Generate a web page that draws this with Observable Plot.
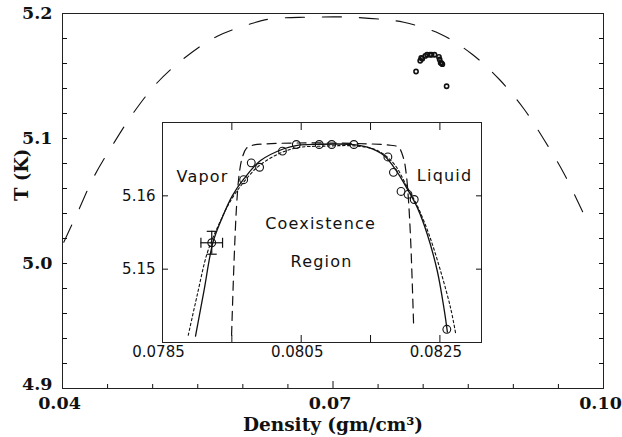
<!DOCTYPE html>
<html><head><meta charset="utf-8">
<script src="https://cdn.jsdelivr.net/npm/d3@7"></script>
<script src="https://cdn.jsdelivr.net/npm/@observablehq/plot@0.6"></script>
<style>
html,body{margin:0;padding:0;background:#fff;}
#wrap{position:relative;width:622px;height:437px;overflow:hidden;}
#wrap svg{position:absolute;overflow:visible;}
</style></head><body><div id="wrap"></div>
<script>
// ---- main panel: dashed envelope (density, temperature) ----
const mainRho = [0.04014, 0.04177, 0.04344, 0.04566, 0.04791, 0.0505, 0.05356, 0.05716, 0.06107, 0.06315, 0.0672, 0.0714, 0.07555, 0.07785, 0.08184, 0.08536, 0.08846, 0.09116, 0.09346, 0.0956, 0.09745, 0.09831];
const mainT   = [5.017, 5.0424, 5.0688, 5.096, 5.121, 5.1446, 5.1646, 5.1818, 5.1922, 5.1958, 5.1970, 5.1972, 5.1952, 5.1930, 5.1838, 5.1678, 5.1472, 5.1238, 5.0984, 5.0722, 5.045, 5.0318];

// ---- measured coexistence points ----
const ptRho = [0.07921, 0.07967, 0.07978, 0.0799, 0.08023, 0.08043, 0.08076, 0.08094, 0.08126, 0.08175, 0.08183, 0.08194, 0.08204, 0.08213, 0.0826];
const ptT   = [5.1536, 5.1622, 5.1645, 5.1639, 5.1661, 5.1670, 5.1670, 5.1670, 5.1670, 5.1653, 5.1632, 5.1606, 5.1602, 5.1595, 5.1418];

// ---- error bar on one point ----
const errRho = [0.07921];
const errT = [5.1536];
const errDRho = [0.000156];
const errDT = [0.00156];

// ---- inset: solid fit ----
const fitRho = [0.078976, 0.079096, 0.079226, 0.079361, 0.079506, 0.079673, 0.079914, 0.08025, 0.080444, 0.080732, 0.081213, 0.081454, 0.081694, 0.081887, 0.082031, 0.082175, 0.082319, 0.082464, 0.082559, 0.082608];
const fitT   = [5.14088, 5.14693, 5.15358, 5.15702, 5.16, 5.1623, 5.16481, 5.16642, 5.16688, 5.16702, 5.16702, 5.16664, 5.1655, 5.16321, 5.16092, 5.15839, 5.15473, 5.14968, 5.14464, 5.14143];

// ---- inset: dotted fit ----
const altRho = [0.078871, 0.079001, 0.079145, 0.079312, 0.079481, 0.07965, 0.079866, 0.080155, 0.080444, 0.080828, 0.08131, 0.081598, 0.081838, 0.082031, 0.082175, 0.082343, 0.082512, 0.082656, 0.082728];
const altT   = [5.14098, 5.14648, 5.1522, 5.1561, 5.15931, 5.16161, 5.16389, 5.16564, 5.16656, 5.16678, 5.16678, 5.16619, 5.16436, 5.16114, 5.15862, 5.15473, 5.14968, 5.14464, 5.1412];

// ---- inset: dashed curve ----
const boxRho = [0.079496, 0.079532, 0.079568, 0.079604, 0.079647, 0.079712, 0.079799, 0.08179, 0.081905, 0.081977, 0.082014, 0.082043, 0.082079, 0.082122];
const boxT   = [5.1410, 5.1511, 5.1586, 5.1628, 5.1651, 5.1665, 5.1669, 5.1669, 5.1666, 5.16509, 5.16303, 5.16, 5.15381, 5.14212];

// ---- inset region labels ----
const labelText = ["Vapor", "Liquid", "Coexistence", "Region"];
const labelRho  = [0.079077, 0.082568, 0.08078, 0.080793];
const labelT    = [5.16261, 5.16275, 5.15615, 5.15099];

// ---- ticks ----
const mainXMinor = [0.045, 0.05, 0.055, 0.06, 0.065, 0.075, 0.08, 0.085, 0.09, 0.095];
const mainXMajor = [0.07];
const mainXLabels = [0.04, 0.07, 0.10];
const mainYTicks = [4.92, 4.94, 4.96, 4.98, 5.0, 5.02, 5.04, 5.06, 5.08, 5.1, 5.12, 5.14, 5.16, 5.18];
const mainYLabels = [5.0, 5.1, 5.2];
const mainYLabelsLow = [4.9];
const insetXTicks = [0.0795, 0.0805, 0.0815, 0.0825];
const insetXLabels = [0.0785, 0.0805, 0.0825];
const insetYTicks = [5.15, 5.16];
const insetYLabels = [5.15, 5.16];

const zip = (xs, ys) => xs.map((x, i) => ({x, y: ys[i]}));
const mainCurve = zip(mainRho, mainT);
const points = zip(ptRho, ptT);
const fit = zip(fitRho, fitT);
const alt = zip(altRho, altT);
const box = zip(boxRho, boxT);
const labels = labelText.map((t, i) => ({t, x: labelRho[i], y: labelT[i]}));
const errs = errRho.map((x, i) => ({x, y: errT[i], dx: errDRho[i], dy: errDT[i]}));

const vCap = {draw(ctx, size) { const r = Math.sqrt(size / Math.PI); ctx.moveTo(0, -r); ctx.lineTo(0, r); }};
const hCap = {draw(ctx, size) { const r = Math.sqrt(size / Math.PI); ctx.moveTo(-r, 0); ctx.lineTo(r, 0); }};

const ink = "#111";

const main = Plot.plot({
  width: 622, height: 437,
  marginLeft: 62, marginRight: 19, marginTop: 13, marginBottom: 49,
  x: {domain: [0.04, 0.10]},
  y: {domain: [4.9, 5.2]},
  style: {fontFamily: "'DejaVu Serif', serif", fontSize: "17.5px", fontWeight: "bold", color: ink, background: "transparent"},
  marks: [
    Plot.frame({stroke: "#222"}),
    Plot.axisX({ticks: mainXMinor, tickSize: -4, tickFormat: () => "", label: null}),
    Plot.axisX({ticks: mainXMajor, tickSize: -7, tickFormat: () => "", label: null}),
    Plot.axisX({ticks: mainXLabels, tickSize: 0, tickPadding: 8, dx: -3, tickFormat: d3.format(".2f"), label: null}),
    Plot.axisY({ticks: mainYTicks, tickSize: -5, tickFormat: () => "", label: null}),
    Plot.axisY({ticks: mainYTicks, anchor: "right", tickSize: -5, tickFormat: () => "", label: null}),
    Plot.axisY({ticks: mainYLabels, tickSize: 0, tickPadding: 10, tickFormat: d3.format(".1f"), label: null}),
    Plot.axisY({ticks: mainYLabelsLow, tickSize: 0, tickPadding: 10, dy: -4, tickFormat: d3.format(".1f"), label: null}),
    Plot.line(mainCurve, {x: "x", y: "y", curve: "catmull-rom", stroke: ink, strokeWidth: 1.1, strokeDasharray: "19,18"}),
    Plot.dot(points, {x: "x", y: "y", r: 2.1, stroke: ink, strokeWidth: 1.6}),
    Plot.text(["T (K)"], {frameAnchor: "left", rotate: -90, dx: -40, fontSize: 18, fontWeight: "bold"}),
    Plot.text(["Density (gm/cm\u00b3)"], {frameAnchor: "bottom", lineAnchor: "bottom", dy: 42, fontSize: 18.5, fontWeight: "bold"})
  ]
});
main.style.left = "0px"; main.style.top = "0px";

const inset = Plot.plot({
  width: 400, height: 260,
  marginLeft: 62, marginRight: 19, marginTop: 10, marginBottom: 30,
  x: {domain: [0.0785, 0.0831]},
  y: {domain: [5.14, 5.17]},
  style: {fontFamily: "'DejaVu Sans', sans-serif", fontSize: "15px", color: ink, background: "transparent"},
  marks: [
    Plot.frame({stroke: "#222", fill: "white"}),
    Plot.axisX({ticks: insetXTicks, anchor: "bottom", tickSize: -7, tickFormat: () => "", label: null}),
    Plot.axisX({ticks: insetXTicks, anchor: "top", tickSize: -7, tickFormat: () => "", label: null}),
    Plot.axisX({ticks: insetXLabels, anchor: "bottom", tickSize: 0, tickPadding: 4, dx: -4, tickFormat: d3.format(".4f"), label: null}),
    Plot.axisY({ticks: insetYTicks, anchor: "left", tickSize: -6, tickFormat: () => "", label: null}),
    Plot.axisY({ticks: insetYTicks, anchor: "right", tickSize: -6, tickFormat: () => "", label: null}),
    Plot.axisY({ticks: insetYLabels, anchor: "left", tickSize: 0, tickPadding: 7, tickFormat: d3.format(".2f"), label: null}),
    Plot.line(box, {x: "x", y: "y", curve: "catmull-rom", stroke: ink, strokeWidth: 1.2, strokeDasharray: "9,6"}),
    Plot.line(alt, {x: "x", y: "y", curve: "catmull-rom", stroke: ink, strokeWidth: 1.1, strokeDasharray: "2.5,2.5"}),
    Plot.line(fit, {x: "x", y: "y", curve: "catmull-rom", stroke: ink, strokeWidth: 1.3}),
    Plot.ruleY(errs, {y: "y", x1: d => d.x - d.dx, x2: d => d.x + d.dx, stroke: ink, strokeWidth: 1.2}),
    Plot.ruleX(errs, {x: "x", y1: d => d.y - d.dy, y2: d => d.y + d.dy, stroke: ink, strokeWidth: 1.2}),
    Plot.dot(errs, {x: d => d.x - d.dx, y: "y", symbol: vCap, r: 5, stroke: ink, strokeWidth: 1.2}),
    Plot.dot(errs, {x: d => d.x + d.dx, y: "y", symbol: vCap, r: 5, stroke: ink, strokeWidth: 1.2}),
    Plot.dot(errs, {x: "x", y: d => d.y - d.dy, symbol: hCap, r: 5, stroke: ink, strokeWidth: 1.2}),
    Plot.dot(errs, {x: "x", y: d => d.y + d.dy, symbol: hCap, r: 5, stroke: ink, strokeWidth: 1.2}),
    Plot.dot(points, {x: "x", y: "y", r: 3.9, stroke: ink, strokeWidth: 1.1}),
    Plot.text(labels, {x: "x", y: "y", text: "t", fontSize: 16, fill: ink})
  ]
});
inset.style.left = "100px"; inset.style.top = "112px";
inset.querySelectorAll("text").forEach(t => {
  if (labelText.includes(t.textContent)) t.style.letterSpacing = "1.2px";
});

const wrap = document.getElementById("wrap");
wrap.appendChild(main);
wrap.appendChild(inset);
</script></body></html>
